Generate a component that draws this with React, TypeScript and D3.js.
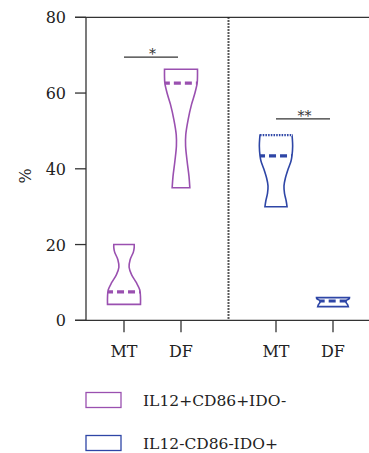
import React from "react";
import * as d3 from "d3";

const categories = ["MT", "DF", "MT", "DF"];
const groups = ["IL12+CD86+IDO-", "IL12+CD86+IDO-", "IL12-CD86-IDO+", "IL12-CD86-IDO+"];
const legendLabels = ["IL12+CD86+IDO-", "IL12-CD86-IDO+"];
const yTicks = [0, 20, 40, 60, 80];

// violin profiles: [value, relative density]
const violinMT1: [number, number][] = [[4.2, 0.97], [6, 0.97], [8, 0.93], [10, 0.72], [12, 0.45], [14, 0.3], [16, 0.36], [18, 0.55], [19.2, 0.6], [20, 0.6]];
const violinDF1: [number, number][] = [[35, 0.52], [38, 0.47], [42, 0.36], [46, 0.27], [49, 0.28], [53, 0.42], [57, 0.62], [60, 0.82], [62.6, 0.95], [64.5, 0.97], [66.3, 0.97]];
const violinMT2: [number, number][] = [[30, 0.65], [31.5, 0.6], [33.5, 0.5], [35.5, 0.47], [37.5, 0.55], [40, 0.72], [42, 0.88], [43.4, 0.94], [46, 0.98], [48, 0.96], [48.9, 0.94]];
const violinDF2: [number, number][] = [[3.6, 0.9], [4.2, 0.85], [4.8, 0.76], [5.3, 0.8], [5.7, 0.95], [6, 0.97]];
const violins = [violinMT1, violinDF1, violinMT2, violinDF2];
const medians = [7.5, 62.6, 43.4, 5.1];
const upperQuartiles = [null, null, 48.9, null];

const sigBars = [
  { from: 0, to: 1, y: 69.5, label: "*" },
  { from: 2, to: 3, y: 53.2, label: "**" },
];

const colors: Record<string, string> = {
  "IL12+CD86+IDO-": "#9a50b0",
  "IL12-CD86-IDO+": "#2e46a6",
};

export default function App() {
  const W = 369, H = 453;
  const y = d3.scaleLinear().domain([0, 80]).range([320.3, 17.3]);
  const xPos = (i: number) => (i < 2 ? 124 + i * 57 : 276 + (i - 2) * 57);
  const wScale = d3.scaleLinear().domain([0, 1]).range([0, 17]);
  const font = "DejaVu Serif";
  const axisColor = "#333";

  return (
    <svg width={W} height={H} style={{ position: "absolute", left: 0, top: 0, fontFamily: font }}>
      <line x1={75} x2={W} y1={y(80)} y2={y(80)} stroke={axisColor} strokeWidth={1.3} />
      <line x1={75} x2={W} y1={y(0)} y2={y(0)} stroke={axisColor} strokeWidth={1.3} />
      <line x1={86} x2={86} y1={y(80)} y2={y(0)} stroke={axisColor} strokeWidth={1.3} />
      {yTicks.map((t) => (
        <g key={t}>
          <line x1={75} x2={86} y1={y(t)} y2={y(t)} stroke={axisColor} strokeWidth={1.3} />
          <text x={66} y={y(t) + 6} textAnchor="end" fontSize={16} fill="#222">{t}</text>
        </g>
      ))}
      <text transform={`translate(31,${y(40) + 7}) rotate(-90)`} textAnchor="middle" fontSize={16} fill="#222">%</text>
      <line x1={228.5} x2={228.5} y1={y(80)} y2={y(0)} stroke="#222" strokeWidth={2} strokeDasharray="1.5,1.5" />
      {categories.map((c, i) => (
        <g key={i}>
          <line x1={xPos(i)} x2={xPos(i)} y1={y(0)} y2={y(0) + 12} stroke={axisColor} strokeWidth={1.3} />
          <text x={xPos(i)} y={357} textAnchor="middle" fontSize={16} fill="#222">{c}</text>
        </g>
      ))}
      {violins.map((v, i) => {
        const cx = xPos(i);
        const col = colors[groups[i]];
        const right = v.map(([val, d]) => [cx + wScale(d), y(val)] as [number, number]);
        const left = v.map(([val, d]) => [cx - wScale(d), y(val)] as [number, number]).reverse();
        const line = d3.line().curve(d3.curveCatmullRom.alpha(0.5));
        const rPath = line(right)!;
        const lPath = line(left)!;
        const path = rPath + "L" + lPath.slice(1) + "Z";
        const med = medians[i];
        const medW = (() => {
          const idx = d3.bisector((p: [number, number]) => p[0]).left(v, med);
          const a = v[Math.max(0, idx - 1)], b = v[Math.min(v.length - 1, idx)];
          const t = b[0] === a[0] ? 0 : (med - a[0]) / (b[0] - a[0]);
          return wScale(a[1] + (b[1] - a[1]) * t);
        })();
        const q3 = upperQuartiles[i];
        return (
          <g key={i}>
            <path d={path} fill="none" stroke={col} strokeWidth={1.6} />
            <line x1={cx - medW} x2={cx + medW} y1={y(med)} y2={y(med)} stroke={col} strokeWidth={3.2} strokeDasharray="7,4" strokeDashoffset={2} />
            {q3 !== null && (
              <>
                <line x1={cx - wScale(0.94)} x2={cx + wScale(0.94)} y1={y(q3)} y2={y(q3)} stroke="#fff" strokeWidth={2} />
                <line x1={cx - wScale(0.94)} x2={cx + wScale(0.94)} y1={y(q3)} y2={y(q3)} stroke={col} strokeWidth={2.2} strokeDasharray="1.5,1.2" />
              </>
            )}
          </g>
        );
      })}
      {sigBars.map((s, i) => {
        const x1 = xPos(s.from), x2 = xPos(s.to);
        return (
          <g key={i}>
            <line x1={x1} x2={x2 - 3} y1={y(s.y)} y2={y(s.y)} stroke="#333" strokeWidth={1.3} />
            <text x={(x1 + x2) / 2} y={y(s.y) + 2} textAnchor="middle" fontSize={14} fill="#333">{s.label}</text>
          </g>
        );
      })}
      {legendLabels.map((l, i) => (
        <g key={l}>
          <rect x={86} y={392.5 + i * 43} width={35} height={15} fill="none" stroke={colors[l]} strokeWidth={1.3} />
          <text x={143} y={406 + i * 43} fontSize={15.5} fill="#222">{l}</text>
        </g>
      ))}
    </svg>
  );
}
